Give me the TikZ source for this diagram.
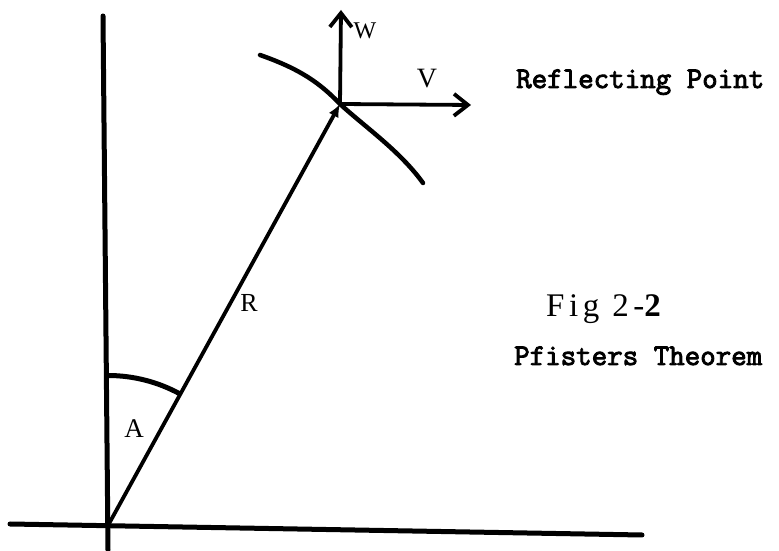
\documentclass[tikz,border=0pt]{standalone}
\usepackage{fontspec}
\setmainfont{Liberation Serif}
\newfontfamily\figfont[LetterSpace=14]{Liberation Serif}
\usetikzlibrary{arrows.meta}
\newcommand{\heavytext}[1]{\special{pdf:literal direct 2 Tr 0.9 w}#1\special{pdf:literal direct 0 Tr}}
\begin{document}
\begin{tikzpicture}[x=1pt,y=1pt,
  axis/.style={line width=5pt,line cap=round},
  vec/.style={line width=3.8pt,-{Straight Barb[length=14pt,width=22pt,line width=3.8pt]}},
  lbl/.style={font=\fontsize{26}{26}\selectfont,inner sep=0pt,anchor=base},
  mlbl/.style={font=\ttfamily\fontsize{30.1}{30.1}\selectfont,inner sep=0pt,anchor=base west}]
\useasboundingbox (0,0) rectangle (779,551);
% axes
\coordinate (O) at (108,25.5);
\coordinate (vtop) at (103,535);
\coordinate (vbot) at (108,1);
\coordinate (hl) at (10,27);
\coordinate (hr) at (642,16);
\draw[axis] (vbot) -- (vtop);
\draw[axis] (hl) -- (hr);
% reflecting point
\coordinate (P) at (340,447);
\coordinate (Wt) at (341,541);
\coordinate (Vt) at (471,446);
\draw[line width=3.8pt,-{Latex[length=13pt,width=11pt]}] (O) -- (P);
\draw[vec] (P) -- (Wt);
\draw[vec] (P) -- (Vt);
% curve through P
\draw[line width=4.5pt,line cap=round] (260,496) .. controls (300,482) and (320,468) .. (P)
   .. controls (365,424) and (400,400) .. (423,368);
% angle arc
\draw[line width=5pt] (108,175.5) arc[start angle=90,end angle=61.2,radius=150];
% labels
\node[lbl,font=\fontsize{24}{24}\selectfont] (W) at (365,512) {W};
\node[lbl,font=\fontsize{28}{28}\selectfont] (V) at (427,463) {V};
\node[lbl] (R) at (249,239) {R};
\node[lbl,font=\fontsize{27}{27}\selectfont] (A) at (134,113) {A};
\node[mlbl] (RP) at (516,463) {\heavytext{Reflecting Point}};
\node[font=\figfont\fontsize{33}{33}\selectfont,inner sep=0pt,anchor=base west] (F) at (546,234) {Fig 2-{\bfseries 2}};
\node[mlbl] (PT) at (514,186) {\heavytext{Pfisters Theorem}};
\end{tikzpicture}
\end{document}
